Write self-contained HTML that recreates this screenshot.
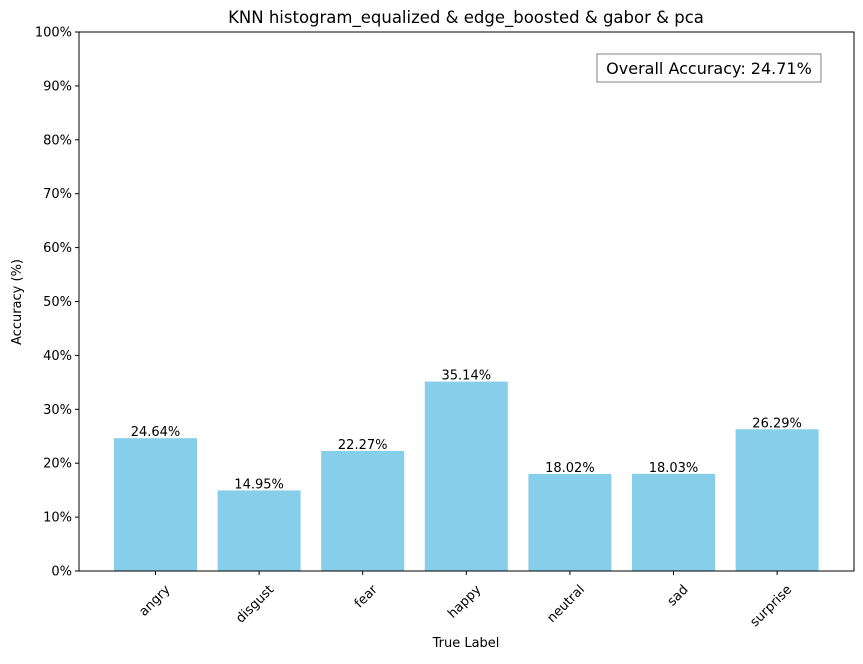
<!DOCTYPE html>
<html><head><meta charset="utf-8"><style>
body{margin:0;background:#fff;font-family:"Liberation Sans","DejaVu Sans",sans-serif;}
</style></head><body>
<svg width="863" height="659" xmlns="http://www.w3.org/2000/svg" font-family="DejaVu Sans, Liberation Sans, sans-serif">
<rect width="863" height="659" fill="#fff"/>
<g id="bars"></g>
<g id="yticks"></g>
<g id="xticks"></g>
<rect x="79" y="32" width="775" height="539" fill="none" stroke="#000" stroke-width="1"/>
<text x="466" y="23" text-anchor="middle" font-size="16.5">KNN histogram_equalized &amp; edge_boosted &amp; gabor &amp; pca</text>
<text x="466" y="647" text-anchor="middle" font-size="13">True Label</text>
<text transform="translate(21,302) rotate(-90)" text-anchor="middle" font-size="13">Accuracy (%)</text>
<rect x="597" y="54" width="224" height="28" fill="#fff" stroke="#808080"/>
<text x="709" y="74" text-anchor="middle" font-size="16">Overall Accuracy: 24.71%</text>
</svg>
<script>
const categories=["angry","disgust","fear","happy","neutral","sad","surprise"];
const values=[24.64,14.95,22.27,35.14,18.02,18.03,26.29];
const yTicks=[0,10,20,30,40,50,60,70,80,90,100];
const NS="http://www.w3.org/2000/svg";
function y(v){return 571-v*5.39;}
function x(i){return 155.5+i*103.6;}
const bw=83;
const bars=document.getElementById('bars'),yt=document.getElementById('yticks'),xt=document.getElementById('xticks');
function mk(t,a,p){const e=document.createElementNS(NS,t);for(const k in a)e.setAttribute(k,a[k]);p.appendChild(e);return e;}
categories.forEach((c,i)=>{
 const r=mk('rect',{x:x(i)-bw/2,y:y(values[i]),width:bw,height:571-y(values[i]),fill:'#87ceeb'},bars);
 
 
 const t=mk('text',{x:x(i),y:y(values[i])-2,'text-anchor':'middle','font-size':'13'},bars);
 t.textContent=values[i].toFixed(2)+'%';
 
 
 mk('line',{x1:x(i),x2:x(i),y1:571,y2:575,stroke:'#000'},xt);
 const l=mk('text',{transform:`translate(${x(i)+9},${584}) rotate(-45)`,'text-anchor':'end','dominant-baseline':'hanging','font-size':'13'},xt);
 l.textContent=c;
 
 
});
yTicks.forEach(v=>{
 mk('line',{x1:75,x2:79,y1:y(v),y2:y(v),stroke:'#000'},yt);
 const t=mk('text',{x:72,y:y(v)+4.5,'text-anchor':'end','font-size':'13'},yt);
 t.textContent=v+'%';
 
 
});
</script>
</body></html>
